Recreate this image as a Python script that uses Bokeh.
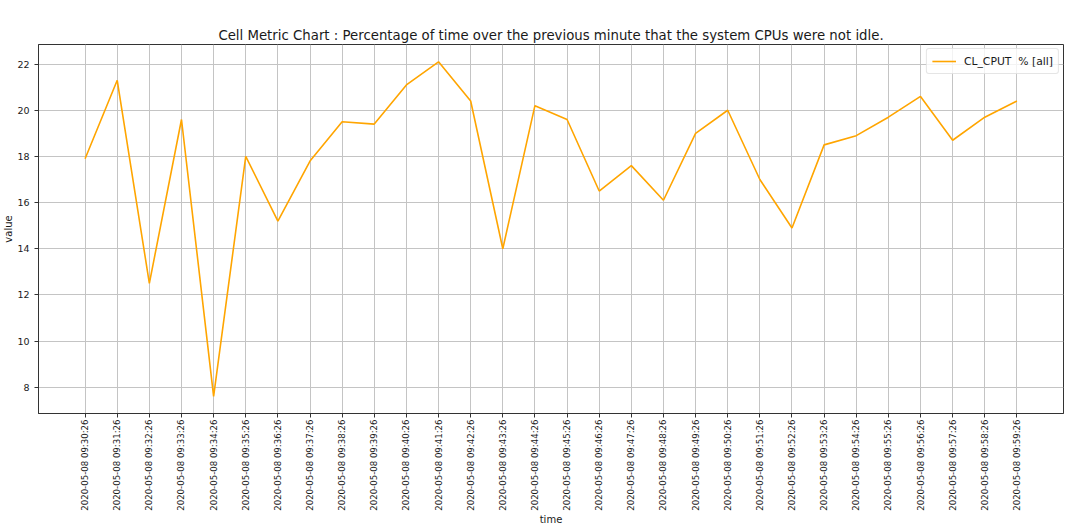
from bokeh.plotting import figure
from bokeh.models import Range1d, FixedTicker, Legend, LegendItem
from bokeh.embed import file_html
from bokeh.resources import INLINE

times = [
    "2020-05-08 09:30:26", "2020-05-08 09:31:26", "2020-05-08 09:32:26", "2020-05-08 09:33:26",
    "2020-05-08 09:34:26", "2020-05-08 09:35:26", "2020-05-08 09:36:26", "2020-05-08 09:37:26",
    "2020-05-08 09:38:26", "2020-05-08 09:39:26", "2020-05-08 09:40:26", "2020-05-08 09:41:26",
    "2020-05-08 09:42:26", "2020-05-08 09:43:26", "2020-05-08 09:44:26", "2020-05-08 09:45:26",
    "2020-05-08 09:46:26", "2020-05-08 09:47:26", "2020-05-08 09:48:26", "2020-05-08 09:49:26",
    "2020-05-08 09:50:26", "2020-05-08 09:51:26", "2020-05-08 09:52:26", "2020-05-08 09:53:26",
    "2020-05-08 09:54:26", "2020-05-08 09:55:26", "2020-05-08 09:56:26", "2020-05-08 09:57:26",
    "2020-05-08 09:58:26", "2020-05-08 09:59:26",
]
cpu_values = [
    17.9, 21.3, 12.5, 19.6, 7.6, 18.0, 15.2, 17.8, 19.5, 19.4,
    21.1, 22.1, 20.4, 14.0, 20.2, 19.6, 16.5, 17.6, 16.1, 19.0,
    20.0, 17.0, 14.9, 18.5, 18.9, 19.7, 20.6, 18.7, 19.7, 20.4,
]
y_ticks = [8, 10, 12, 14, 16, 18, 20, 22]
series_label = "CL_CPUT  % [all]"
title_text = "Cell Metric Chart : Percentage of time over the previous minute that the system CPUs were not idle."
x_label = "time"
y_label = "value"

FONT = "DejaVu Sans"
TXT = "#1a1a1a"
AX = "#333333"

x_idx = list(range(len(times)))

p = figure(frame_width=1025, frame_height=369, output_backend="svg", toolbar_location=None,
           x_range=Range1d(-1.45, len(times) - 1 + 1.45), y_range=Range1d(6.86, 22.85),
           min_border_left=26, min_border_right=9, min_border_top=44, min_border_bottom=100)
p.background_fill_color = "white"
p.border_fill_color = "white"
p.outline_line_color = AX
p.outline_line_width = 1

p.title.text = title_text
p.title.align = "center"
p.title.text_font = FONT
p.title.text_font_style = "normal"
p.title.text_font_size = "13.3px"
p.title.text_color = TXT
p.title.offset = 0
p.title.standoff = 4

r = p.line(x_idx, cpu_values, line_color="#FFA500", line_width=1.6)

p.xaxis.ticker = FixedTicker(ticks=x_idx)
p.xaxis.major_label_overrides = {i: t for i, t in zip(x_idx, times)}
p.xaxis.major_label_orientation = 1.5707963
p.yaxis.ticker = FixedTicker(ticks=y_ticks)

for ax in (p.xaxis, p.yaxis):
    ax.axis_line_color = AX
    ax.major_tick_line_color = AX
    ax.major_tick_out = 4
    ax.major_tick_in = 0
    ax.minor_tick_line_color = None
    ax.major_label_text_font = FONT
    ax.major_label_text_color = TXT
    ax.axis_label_text_font = FONT
    ax.axis_label_text_font_style = "normal"
    ax.axis_label_text_color = TXT
    ax.axis_label_text_font_size = "10px"
    ax.axis_label_standoff = 0

p.xaxis.major_label_standoff = 2
p.yaxis.major_label_standoff = 5
p.xaxis.major_label_text_font_size = "8.6px"
p.yaxis.major_label_text_font_size = "9.5px"
p.yaxis.axis_label = y_label
p.xaxis.axis_label = x_label

p.xgrid.grid_line_color = "#c4c4c4"
p.ygrid.grid_line_color = "#c4c4c4"
p.xgrid.grid_line_width = 1
p.ygrid.grid_line_width = 1

legend = Legend(items=[LegendItem(label=series_label, renderers=[r])], location="top_right")
legend.margin = 4
legend.padding = 5
legend.spacing = 0
legend.glyph_width = 24
legend.glyph_height = 14
legend.label_standoff = 8
legend.label_text_font = FONT
legend.label_text_font_size = "10.8px"
legend.label_text_color = TXT
legend.border_line_color = "#cccccc"
legend.border_line_width = 1
legend.background_fill_alpha = 0.8
legend.border_radius = 3
p.add_layout(legend)

open("out.html", "w").write(file_html(p, INLINE))
